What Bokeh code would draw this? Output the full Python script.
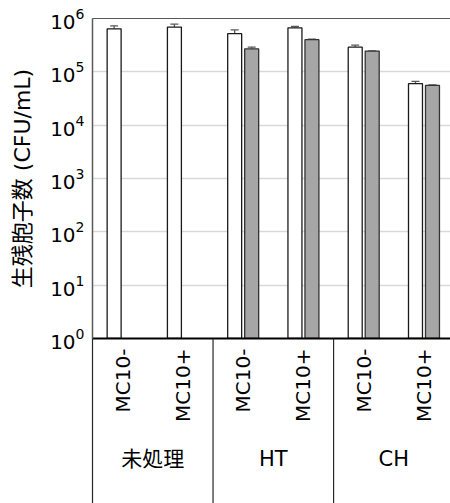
from math import pi

from bokeh.embed import file_html
from bokeh.models import (ColumnDataSource, FixedTicker, LinearAxis, LogTickFormatter,
                          Range1d, TeeHead, Whisker)
from bokeh.plotting import figure
from bokeh.resources import INLINE

# --- data -------------------------------------------------------------
groups = ["未処理", "HT", "CH"]
conditions = ["MC10-", "MC10+"]
y_ticks = [1, 10, 100, 1e3, 1e4, 1e5, 1e6]

# surviving spores (CFU/mL), one value per group x condition
open_counts = [6.4e5, 6.9e5, 5.2e5, 6.7e5, 2.9e5, 6.0e4]
open_err = [8.9e4, 9.5e4, 9.0e4, 3.8e4, 2.6e4, 6.2e3]
shaded_counts = [None, None, 2.7e5, 4.0e5, 2.45e5, 5.55e4]
shaded_err = [None, None, 2.1e4, 1.2e4, 3.0e3, 1.5e3]

# --- category layout ------------------------------------------------------
cat_labels = [c for g in groups for c in conditions]
centers = [i + 0.5 for i in range(len(cat_labels))]
group_centers = [len(conditions) * k + len(conditions) / 2 for k in range(len(groups))]
group_edges = [len(conditions) * k for k in range(len(groups))]

BAR_W = 0.232
SHIFT = 0.141


def series_source(counts, errs, shift):
    rows = [(c + shift, v, v + e) for c, v, e in zip(centers, counts, errs) if v is not None]
    return ColumnDataSource(dict(x=[r[0] for r in rows], top=[r[1] for r in rows],
                                 upper=[r[2] for r in rows]))


src_open = series_source(open_counts, open_err, -SHIFT)
src_shaded = series_source(shaded_counts, shaded_err, SHIFT)

p = figure(width=450, height=503, x_range=Range1d(0, 5.94), y_range=Range1d(1, 1e6),
           y_axis_type="log", output_backend="svg", toolbar_location=None,
           min_border_left=92, min_border_top=18, min_border_bottom=165, min_border_right=0)
p.background_fill_color = "white"
p.border_fill_color = "white"
p.outline_line_color = None
p.xgrid.visible = False

# gridlines
p.ygrid.grid_line_color = "#d9d9d9"
p.ygrid.grid_line_width = 1.3

# bars
p.vbar(x="x", top="top", bottom=1, width=BAR_W, source=src_open,
       fill_color="white", line_color="#1a1a1a", line_width=1.3)
p.vbar(x="x", top="top", bottom=1, width=BAR_W, source=src_shaded,
       fill_color="#a6a6a6", line_color="#333333", line_width=1.3)

# upper error bars
for src in (src_open, src_shaded):
    p.add_layout(Whisker(source=src, base="x", lower="top", upper="upper", dimension="height",
                         line_color="#595959", line_width=1.3, lower_head=None,
                         upper_head=TeeHead(size=8, line_color="#595959", line_width=1.3)))

# group separators running down through the category labels
p.segment(x0=group_edges, y0=[1] * len(group_edges), x1=group_edges,
          y1=[10 ** -3.2] * len(group_edges), line_color="#262626", line_width=1.2,
          level="overlay")

# y axis
yax = p.yaxis[0]
yax.ticker = FixedTicker(ticks=y_ticks, minor_ticks=[])
yax.formatter = LogTickFormatter()
yax.major_tick_line_color = None
yax.minor_tick_line_color = None
yax.major_tick_out = 0
yax.minor_tick_out = 0
yax.major_label_standoff = 8
yax.major_label_text_font = "DejaVu Sans"
yax.major_label_text_font_size = "20px"
yax.major_label_text_color = "black"
yax.axis_line_color = "#595959"
yax.axis_line_width = 1.5
yax.axis_label = "生残胞子数 (CFU/mL)"
yax.axis_label_text_font = "'DejaVu Sans', 'Noto Sans CJK JP'"
yax.axis_label_text_font_size = "22px"
yax.axis_label_text_font_style = "normal"
yax.axis_label_text_color = "black"
yax.axis_label_standoff = 12

# condition labels under each bar pair
xax = p.xaxis[0]
xax.ticker = FixedTicker(ticks=centers, minor_ticks=[])
xax.major_label_overrides = dict(zip(centers, cat_labels))
xax.major_label_orientation = pi / 2
xax.major_tick_line_color = None
xax.minor_tick_line_color = None
xax.major_tick_out = 0
xax.minor_tick_out = 0
xax.major_label_standoff = 10
xax.major_label_text_font = "DejaVu Sans"
xax.major_label_text_font_size = "20px"
xax.major_label_text_color = "black"
xax.axis_line_color = "black"
xax.axis_line_width = 2

# group labels
gax = LinearAxis(ticker=FixedTicker(ticks=group_centers, minor_ticks=[]),
                 major_label_overrides=dict(zip(group_centers, groups)),
                 axis_line_color=None, major_tick_line_color=None, minor_tick_line_color=None,
                 major_tick_out=0, minor_tick_out=0, major_label_standoff=22,
                 major_label_text_font="'DejaVu Sans', 'Noto Sans CJK JP'",
                 major_label_text_font_size="21px", major_label_text_color="black")
p.add_layout(gax, "below")

# top border of the plot area
top = LinearAxis(ticker=FixedTicker(ticks=[], minor_ticks=[]), axis_line_color="#595959",
                 axis_line_width=1.2, major_tick_line_color=None, minor_tick_line_color=None,
                 major_tick_out=0, minor_tick_out=0, major_label_text_font_size="0px")
p.add_layout(top, "above")

open("out.html", "w").write(file_html(p, INLINE))
